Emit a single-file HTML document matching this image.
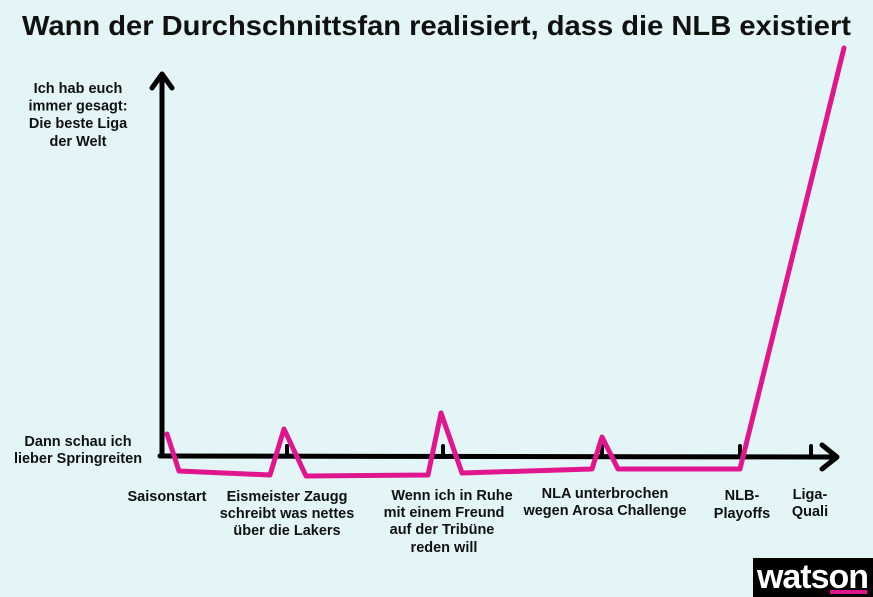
<!DOCTYPE html>
<html><head><meta charset="utf-8"><style>
html,body{margin:0;padding:0;background:#e3f5f7;}
svg{display:block;}
text{font-family:"Liberation Sans",Arial,sans-serif;font-weight:bold;fill:#111;}
.l{font-size:14.5px;text-anchor:middle;}
</style></head><body>
<svg width="873" height="597" viewBox="0 0 873 597" xmlns="http://www.w3.org/2000/svg">
<rect width="873" height="597" fill="#e3f5f7"/>
<text x="22" y="35" font-size="28" textLength="829" lengthAdjust="spacingAndGlyphs">Wann der Durchschnittsfan realisiert, dass die NLB existiert</text>

<!-- axes -->
<g stroke="#000" stroke-width="5" fill="none" stroke-linecap="round" stroke-linejoin="round">
<path d="M162 456 L162 75"/>
<path d="M152 88 L162 74 L172 88"/>
<path d="M160 456 L835 457"/>
<path d="M822 445 L837 457 L822 469"/>
<path d="M287 446 L287 456 M443 446 L443 456 M602 446 L602 456 M740 446 L740 456 M811 446 L811 456" stroke-width="4"/>
</g>

<!-- pink line -->
<polyline fill="none" stroke="#e0168f" stroke-width="5" stroke-linejoin="round" stroke-linecap="round"
points="167,434 179,471 270,475 284,429 306,476 428,475 441,413 462,473 592,469 602,437 618,469 740,469 844,48"/>

<!-- y labels -->
<text class="l" x="78" y="93">Ich hab euch</text>
<text class="l" x="78" y="110.5">immer gesagt:</text>
<text class="l" x="78" y="128">Die beste Liga</text>
<text class="l" x="78" y="146">der Welt</text>
<text class="l" x="78" y="446">Dann schau ich</text>
<text class="l" x="78" y="463">lieber Springreiten</text>

<!-- x labels -->
<text class="l" x="167" y="501">Saisonstart</text>
<text class="l" x="287" y="501">Eismeister Zaugg</text>
<text class="l" x="287" y="518">schreibt was nettes</text>
<text class="l" x="287" y="535">über die Lakers</text>
<text class="l" x="452" y="500">Wenn ich in Ruhe</text>
<text class="l" x="444" y="517">mit einem Freund</text>
<text class="l" x="442" y="534">auf der Tribüne</text>
<text class="l" x="444" y="552">reden will</text>
<text class="l" x="605" y="498">NLA unterbrochen</text>
<text class="l" x="605" y="515">wegen Arosa Challenge</text>
<text class="l" x="742" y="500">NLB-</text>
<text class="l" x="742" y="518">Playoffs</text>
<text class="l" x="810" y="499">Liga-</text>
<text class="l" x="810" y="516">Quali</text>

<!-- watson logo -->
<rect x="753" y="558" width="120" height="39" fill="#000"/>
<text x="757" y="588" font-size="34" textLength="111" lengthAdjust="spacingAndGlyphs" style="fill:#fff;letter-spacing:-1px">watson</text>
<rect x="830" y="590" width="37" height="4" fill="#e0168f"/>
</svg>
</body></html>
